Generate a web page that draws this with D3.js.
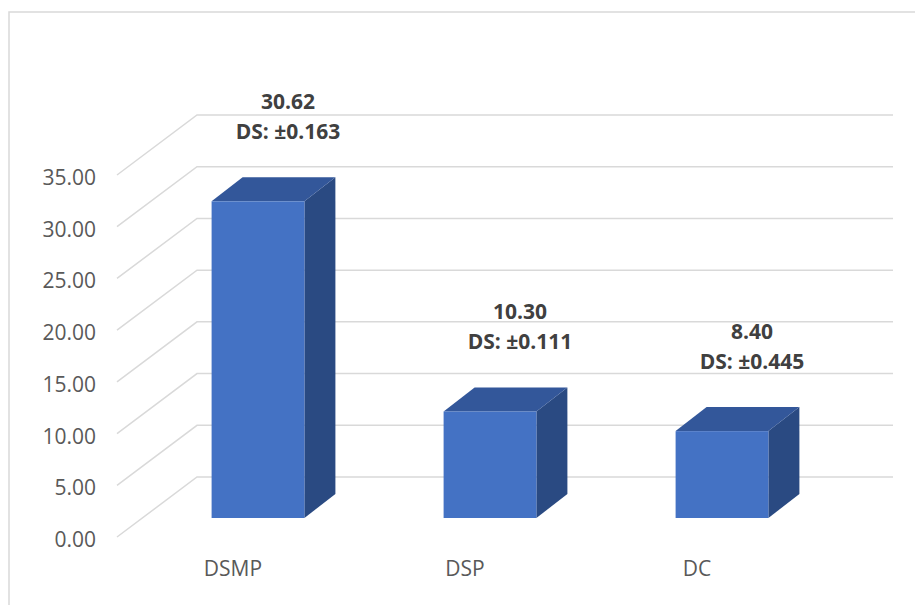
<!DOCTYPE html>
<html>
<head>
<meta charset="utf-8">
<script src="https://cdn.jsdelivr.net/npm/d3@7"></script>
<style>
  body { margin: 0; background: #fff; }
  svg { display: block; font-family: "Open Sans", sans-serif; }
</style>
</head>
<body>
<div id="chart"></div>
<script>
const categories = ["DSMP", "DSP", "DC"];
const values = [30.62, 10.30, 8.40];
const deviations = ["±0.163", "±0.111", "±0.445"];
const tickValues = [0, 5, 10, 15, 20, 25, 30, 35];

const width = 915;
const height = 605;

// back wall extent
const wall = { left: 197, right: 893, top: 115, bottom: 477 };
// floor depth (front edge is offset by this from the back wall)
const floor = { dx: -80, dy: 60 };
// bar front plane sits partway along the floor
const barPlane = { dx: -55, dy: 41 };
// extrusion of each bar
const barDepth = { dx: 31, dy: -24 };

const colors = {
  front: "#4472C4",
  top: "#33579A",
  side: "#2A4A82",
  grid: "#D9D9D9",
  tick: "#595959",
  label: "#404040",
};

const svg = d3
  .select("#chart")
  .append("svg")
  .attr("width", width)
  .attr("height", height);

// outer chart border
svg
  .append("rect")
  .attr("x", 9)
  .attr("y", 12)
  .attr("width", width + 20)
  .attr("height", height + 20)
  .attr("fill", "none")
  .attr("stroke", colors.grid)
  .attr("stroke-width", 1.5);

const x = d3
  .scaleBand()
  .domain(categories)
  .range([wall.left, wall.right])
  .paddingInner(0.6)
  .paddingOuter(0.3);

const y = d3
  .scaleLinear()
  .domain([0, 35])
  .range([wall.bottom, wall.top]);

// gridlines: side-wall diagonal + back-wall horizontal
const grid = svg.append("g").attr("class", "grid");
tickValues.forEach((v) => {
  const yb = y(v);
  grid
    .append("polyline")
    .attr(
      "points",
      `${wall.left + floor.dx},${yb + floor.dy} ${wall.left},${yb} ${wall.right},${yb}`
    )
    .attr("fill", "none")
    .attr("stroke", colors.grid)
    .attr("stroke-width", 1.5);
});

// y tick labels
svg
  .append("g")
  .attr("class", "y-labels")
  .selectAll("text")
  .data(tickValues)
  .join("text")
  .attr("x", 96)
  .attr("y", (d) => y(d) + floor.dy + 2)
  .attr("text-anchor", "end")
  .attr("dominant-baseline", "central")
  .attr("fill", colors.tick)
  .style("font-size", "21px")
  .text((d) => d.toFixed(2));

// 3D bars
const bars = svg
  .append("g")
  .attr("class", "bars")
  .selectAll("g")
  .data(categories.map((c, i) => ({ cat: c, value: values[i], ds: deviations[i] })))
  .join("g");

bars.each(function (d) {
  const g = d3.select(this);
  const x0 = x(d.cat) + barPlane.dx;
  const x1 = x0 + x.bandwidth();
  const y0 = y(0) + barPlane.dy;
  const y1 = y(d.value) + barPlane.dy;
  const bx = barDepth.dx;
  const by = barDepth.dy;

  // side
  g.append("polygon")
    .attr("points", `${x1},${y1} ${x1 + bx},${y1 + by} ${x1 + bx},${y0 + by} ${x1},${y0}`)
    .attr("fill", colors.side);
  // top
  g.append("polygon")
    .attr("points", `${x0},${y1} ${x0 + bx},${y1 + by} ${x1 + bx},${y1 + by} ${x1},${y1}`)
    .attr("fill", colors.top);
  // front
  g.append("rect")
    .attr("x", x0)
    .attr("y", y1)
    .attr("width", x1 - x0)
    .attr("height", y0 - y1)
    .attr("fill", colors.front);

  // data labels
  const lx = (x0 + x1) / 2 + 30;
  const ly = y1 + by - 46;
  g.append("text")
    .attr("x", lx)
    .attr("y", ly - 30)
    .attr("text-anchor", "middle")
    .attr("dominant-baseline", "central")
    .attr("fill", colors.label)
    .style("font-size", "21px")
    .style("font-weight", "bold")
    .text(d.value.toFixed(2));
  g.append("text")
    .attr("x", lx)
    .attr("y", ly)
    .attr("text-anchor", "middle")
    .attr("dominant-baseline", "central")
    .attr("fill", colors.label)
    .style("font-size", "21px")
    .style("font-weight", "bold")
    .text(`DS: ${d.ds}`);
});

// category labels on the front edge of the floor
svg
  .append("g")
  .attr("class", "x-labels")
  .selectAll("text")
  .data(categories)
  .join("text")
  .attr("x", (d) => x(d) + x.bandwidth() / 2 + floor.dx)
  .attr("y", 568)
  .attr("text-anchor", "middle")
  .attr("dominant-baseline", "central")
  .attr("fill", colors.tick)
  .style("font-size", "21px")
  .text((d) => d);
</script>
</body>
</html>
